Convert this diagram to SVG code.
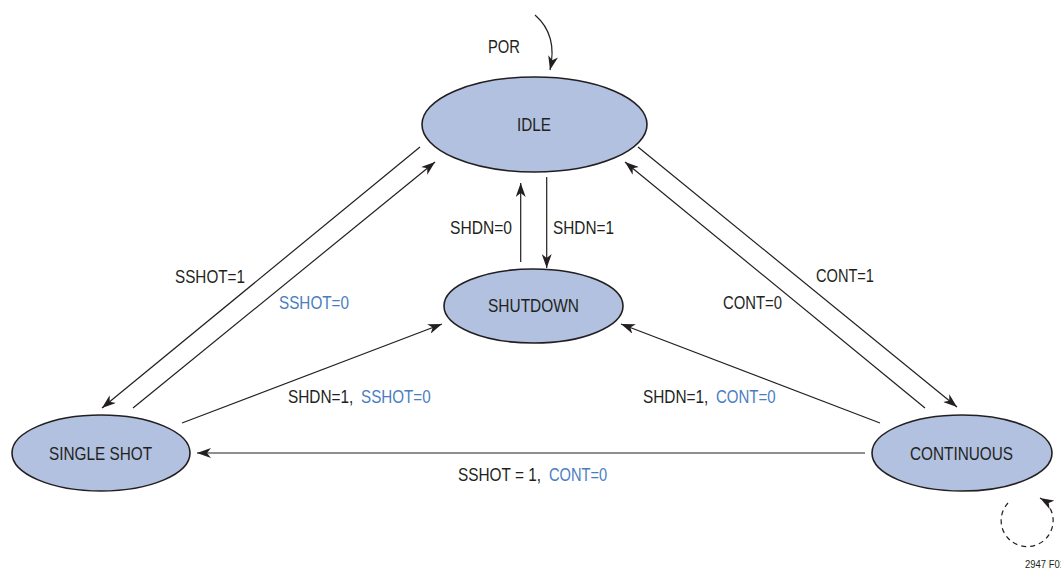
<svg xmlns="http://www.w3.org/2000/svg" width="1061" height="571" viewBox="0 0 1061 571">
<style>
.node{fill:#b1c1df;stroke:#231f20;stroke-width:1.6}
.t{font-family:"Liberation Sans",Arial,sans-serif;font-size:19px;fill:#231f20}
.b{fill:#4a7dbf}
.c{fill:none;stroke:#231f20;stroke-width:1.2}
.d{fill:none;stroke:#231f20;stroke-width:1.2;stroke-dasharray:5,4}
</style>
<defs>
<marker id="ah" markerUnits="userSpaceOnUse" viewBox="0 0 14 10" refX="14" refY="5" markerWidth="14" markerHeight="10" orient="auto">
<path d="M0,0 L14,5 L0,10 L4,5 z" fill="#231f20"/>
</marker>
</defs>
<rect width="1061" height="571" fill="#ffffff"/>
<g id="connectors">
<path class="c" d="M535,15 Q558,35 550,70" marker-end="url(#ah)"/>
<line class="c" x1="420" y1="147" x2="102" y2="408" marker-end="url(#ah)"/>
<line class="c" x1="133" y1="408" x2="435" y2="162" marker-end="url(#ah)"/>
<line class="c" x1="638" y1="147" x2="957" y2="407" marker-end="url(#ah)"/>
<line class="c" x1="925" y1="408" x2="625" y2="162" marker-end="url(#ah)"/>
<line class="c" x1="520.7" y1="262" x2="520.7" y2="183" marker-end="url(#ah)"/>
<line class="c" x1="546.7" y1="177" x2="546.7" y2="268" marker-end="url(#ah)"/>
<line class="c" x1="182" y1="423" x2="442" y2="324" marker-end="url(#ah)"/>
<line class="c" x1="880" y1="423" x2="621" y2="324" marker-end="url(#ah)"/>
<line class="c" x1="865" y1="453" x2="197" y2="453" marker-end="url(#ah)"/>
<path class="d" d="M1008,503 A26,26 0 1 0 1040,498" marker-end="url(#ah)"/>
</g>
<g id="labels">
<text class="t" x="488" y="53" textLength="32" lengthAdjust="spacingAndGlyphs">POR</text>
<text class="t" x="175" y="283" textLength="70" lengthAdjust="spacingAndGlyphs">SSHOT=1</text>
<text class="t b" x="279" y="309" textLength="70" lengthAdjust="spacingAndGlyphs">SSHOT=0</text>
<text class="t" x="816" y="282" textLength="58" lengthAdjust="spacingAndGlyphs">CONT=1</text>
<text class="t" x="723" y="309" textLength="59" lengthAdjust="spacingAndGlyphs">CONT=0</text>
<text class="t" x="450" y="234" textLength="62" lengthAdjust="spacingAndGlyphs">SHDN=0</text>
<text class="t" x="553" y="234" textLength="61" lengthAdjust="spacingAndGlyphs">SHDN=1</text>
<text class="t" transform="translate(288,403) scale(0.81,1)">SHDN=1,</text>
<text class="t b" transform="translate(361,403) scale(0.8,1)">SSHOT=0</text>
<text class="t" transform="translate(643,403) scale(0.81,1)">SHDN=1,</text>
<text class="t b" transform="translate(716,403) scale(0.79,1)">CONT=0</text>
<text class="t" transform="translate(458,481) scale(0.81,1)">SSHOT = 1,</text>
<text class="t b" transform="translate(549,481) scale(0.77,1)">CONT=0</text>
<text class="t" x="1025" y="568" style="font-size:11px" textLength="40" lengthAdjust="spacingAndGlyphs">2947 F01</text>
</g>
<g id="idle">
<ellipse class="node" cx="534.5" cy="124.5" rx="112.5" ry="47.5"/>
<text class="t" x="534" y="131" text-anchor="middle" textLength="34" lengthAdjust="spacingAndGlyphs">IDLE</text>
</g>
<g id="shutdown">
<ellipse class="node" cx="533.5" cy="306" rx="89.5" ry="37"/>
<text class="t" x="533.5" y="312" text-anchor="middle" textLength="91" lengthAdjust="spacingAndGlyphs">SHUTDOWN</text>
</g>
<g id="singleshot">
<ellipse class="node" cx="101" cy="453" rx="89" ry="38"/>
<text class="t" x="100.5" y="460" text-anchor="middle" textLength="103" lengthAdjust="spacingAndGlyphs">SINGLE SHOT</text>
</g>
<g id="continuous">
<ellipse class="node" cx="962" cy="453" rx="90" ry="38"/>
<text class="t" x="961.5" y="460" text-anchor="middle" textLength="103" lengthAdjust="spacingAndGlyphs">CONTINUOUS</text>
</g>
</svg>
